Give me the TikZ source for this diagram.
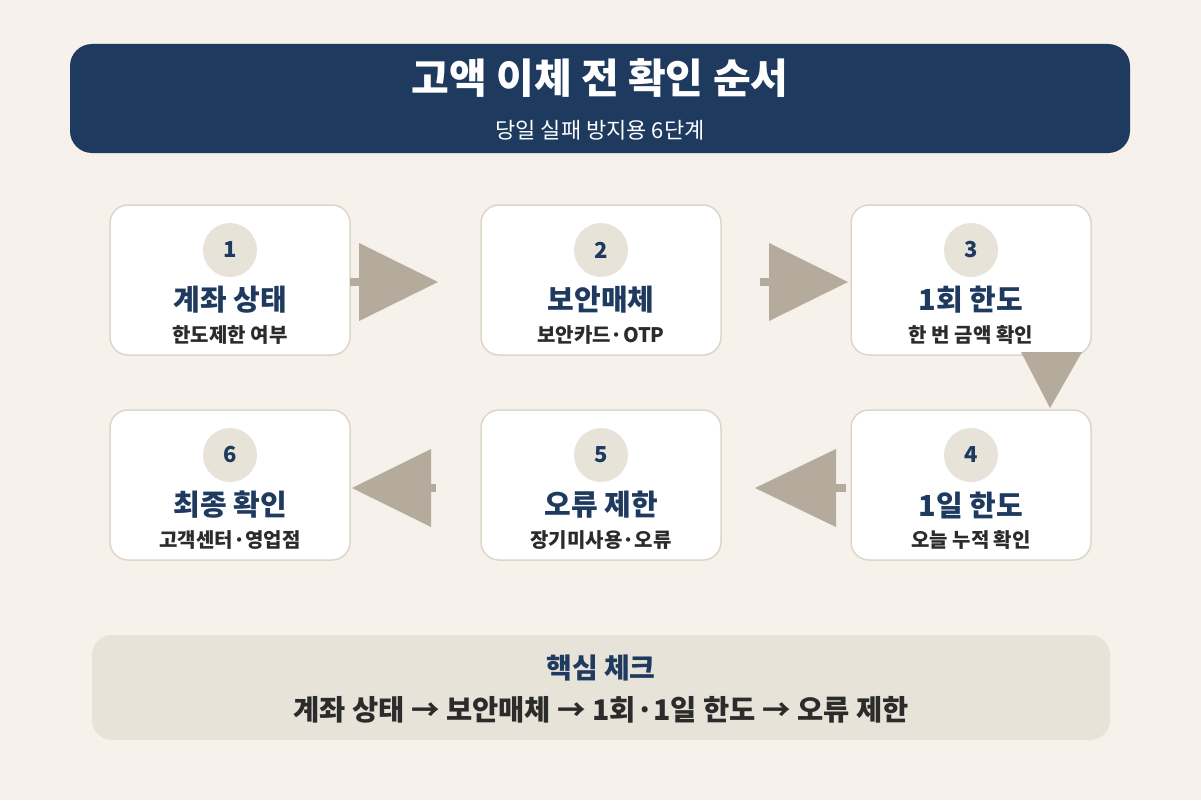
\documentclass[tikz,border=0pt]{standalone}
\usepackage{fontspec}
\setmainfont{Noto Sans CJK KR}
\definecolor{bg}{HTML}{F6F1EA}
\definecolor{navy}{HTML}{1E3A5F}
\definecolor{beige}{HTML}{E8E3D8}
\definecolor{arr}{HTML}{B5AB9C}
\definecolor{bord}{HTML}{DDD6CB}
\definecolor{dark}{HTML}{2B2B2B}
\begin{document}
\begin{tikzpicture}[x=1pt,y=-1pt,
 box/.style={draw=bord,line width=1.5pt,fill=white,rounded corners=18pt},
 num/.style={circle,fill=beige,minimum size=54pt,inner sep=0pt,text=navy,font=\fontsize{22}{24}\selectfont\bfseries},
 ttl/.style={text=navy,font=\fontsize{29}{32}\selectfont\bfseries},
 sub/.style={text=dark,font=\fontsize{20}{24}\selectfont\bfseries},
 tri/.style={fill=arr},
 stub/.style={draw=arr,line width=8pt}]
\fill[bg] (0,0) rectangle (1201,800);
\useasboundingbox (0,0) rectangle (1201,800);
\fill[navy,rounded corners=22pt] (70,44) rectangle (1130,153);
\node[text=white,font=\fontsize{41}{45}\selectfont\bfseries] (h) at (600,78) {고액 이체 전 확인 순서};
\node[text=white,font=\fontsize{22}{26}\selectfont] (hs) at (600,130) {당일 실패 방지용 6단계};
\foreach \i/\x/\y/\t/\s in {1/110/205/계좌 상태/한도제한 여부, 2/481/205/보안매체/보안카드·OTP, 3/851/205/1회 한도/한 번 금액 확인, 4/851/410/1일 한도/오늘 누적 확인, 5/481/410/오류 제한/장기미사용·오류, 6/110/410/최종 확인/고객센터·영업점}{
 \draw[box] (\x,\y) rectangle ++(240,150);
 \node[num] (n\i) at (\x+120,\y+45) {\i};
 \node[ttl] (t\i) at (\x+120,\y+95) {\t};
 \node[sub] (s\i) at (\x+120,\y+130) {\s};
}
% arrows
\draw[stub] (350,282) -- (362,282);
\fill[tri] (359,243) -- (438,282) -- (359,321) -- cycle;
\draw[stub] (760,282) -- (772,282);
\fill[tri] (769,243) -- (848,282) -- (769,321) -- cycle;
\fill[tri] (1021,352) -- (1050,408) -- (1082,352) -- cycle;
\draw[stub] (846,488) -- (834,488);
\fill[tri] (836,449) -- (755,488) -- (836,527) -- cycle;
\draw[stub] (436,488) -- (424,488);
\fill[tri] (431,449) -- (352,488) -- (431,527) -- cycle;
\fill[beige,rounded corners=20pt] (92,635) rectangle (1110,740);
\node[text=navy,font=\fontsize{28}{32}\selectfont\bfseries] (k) at (601,668) {핵심 체크};
\node[text=dark,font=\fontsize{28.5}{32}\selectfont\bfseries] (kl) at (601,710) {계좌 상태 → 보안매체 → 1회·1일 한도 → 오류 제한};
\end{tikzpicture}
\end{document}
